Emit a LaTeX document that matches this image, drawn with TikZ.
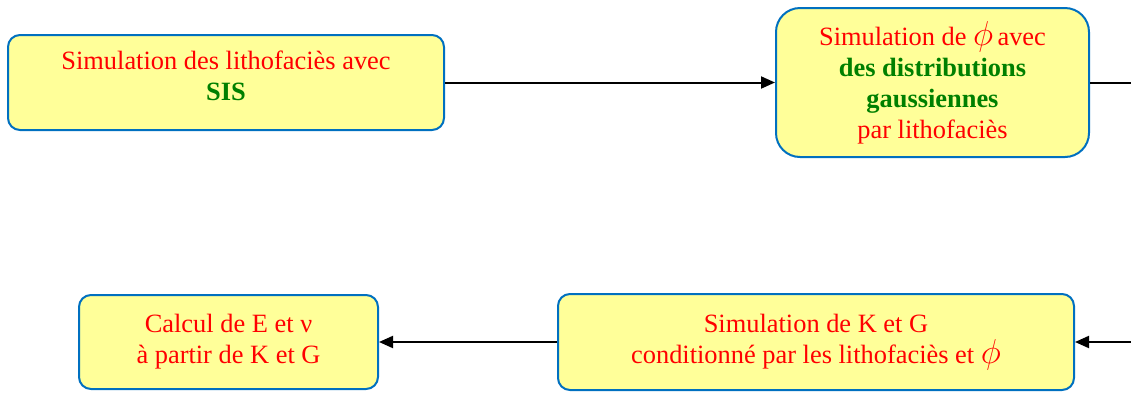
\documentclass[tikz,border=0pt]{standalone}
\usepackage{fontspec}
\setmainfont{Liberation Serif}
\usetikzlibrary{arrows.meta}
\definecolor{boxfill}{RGB}{255,255,153}
\definecolor{boxline}{RGB}{0,112,192}
\definecolor{txtred}{RGB}{255,0,0}
\definecolor{txtgreen}{RGB}{0,128,0}
\newcommand{\bigphi}{{\fontsize{17}{17}\selectfont$\phi$}}
\begin{document}
\begin{tikzpicture}[x=0.5pt,y=-0.5pt,
  box/.style={draw=boxline, fill=boxfill, line width=1pt, rounded corners=6pt,
    align=center, inner sep=0pt, text=txtred, font=\fontsize{13.2}{15.5}\selectfont},
  conn/.style={line width=1pt, -{Triangle[length=7pt,width=6pt]}},
  plain/.style={line width=1pt}]
\useasboundingbox (0,0) rectangle (1131,392);
\node[box, minimum width=218pt, minimum height=47.5pt, text depth=6.5pt] (sis) at (226,82.5)
  {Simulation des lithofaciès avec\\\textcolor{txtgreen}{\textbf{SIS}}};
\node[box, rounded corners=12pt, minimum width=156.5pt, minimum height=74.5pt] (phi) at (932.5,82.5)
  {Simulation de \bigphi\,avec\\\textcolor{txtgreen}{\textbf{des distributions}}\\\textcolor{txtgreen}{\textbf{gaussiennes}}\\par lithofaciès};
\node[box, minimum width=258pt, minimum height=48pt] (kg) at (816,342)
  {Simulation de K et G\\conditionné par les lithofaciès et \bigphi};
\node[box, minimum width=149.5pt, minimum height=47pt] (ev) at (228.5,342)
  {Calcul de E et ν\\à partir de K et G};
\coordinate (r1) at (1131,82.5);
\coordinate (r2) at (1131,342);
\draw[conn] (sis) -- (phi);
\draw[plain] (phi.east) -- (r1);
\draw[conn] (r2) -- (kg.east);
\draw[conn] (kg.west) -- (ev.east);
\end{tikzpicture}
\end{document}
